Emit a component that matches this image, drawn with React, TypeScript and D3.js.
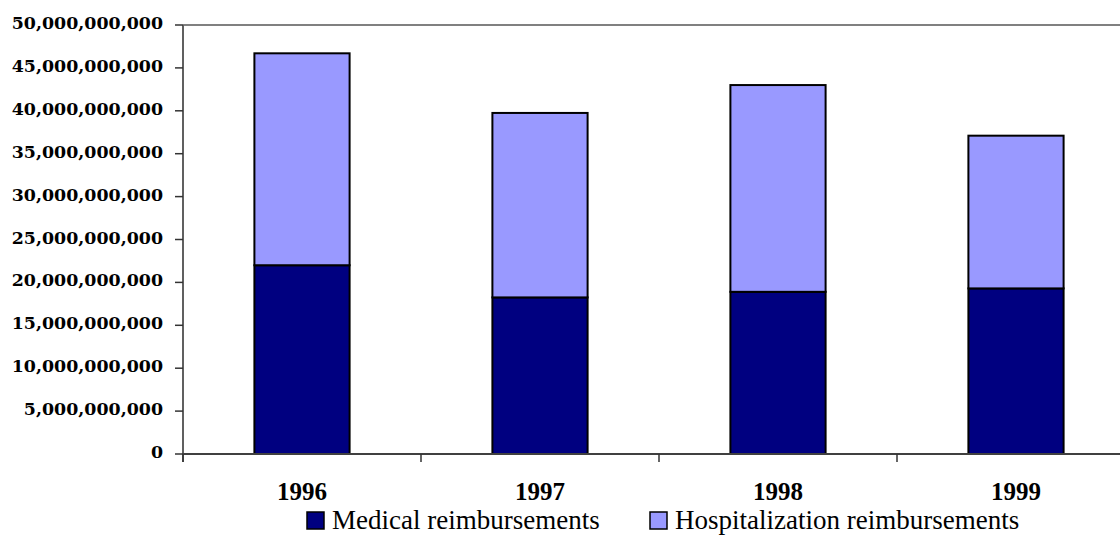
import React from "react";
import * as d3 from "d3";

const years = ["1996", "1997", "1998", "1999"];
const medical = [22.0e9, 18.25e9, 18.9e9, 19.3e9];
const hospitalization = [24.7e9, 21.5e9, 24.1e9, 17.8e9];
const seriesNames = ["Medical reimbursements", "Hospitalization reimbursements"];
const seriesColors = ["#000080", "#9999FF"];
const yTicks = d3.range(0, 50e9 + 1, 5e9);

const W = 1120;
const H = 535;
const left = 183;
const top = 25;
const bottom = 454;
const right = 1135;

export default function App() {
  const x = d3.scaleBand<string>().domain(years).range([left, right]).paddingInner(0.6).paddingOuter(0.3);
  const y = d3.scaleLinear().domain([0, 50e9]).range([bottom, top]);
  const rows = years.map((yr, i) => ({ year: yr, medical: medical[i], hospitalization: hospitalization[i] }));
  const stacked = d3.stack<any>().keys(["medical", "hospitalization"])(rows);
  const fmt = d3.format(",");
  const step = x.step();
  const boundaries = d3.range(0, years.length + 1).map((i) => left + i * step);

  return (
    <svg width={W} height={H} style={{ position: "absolute", left: 0, top: 0, background: "#fff" }}>
      {/* plot border top */}
      <line x1={left} x2={W} y1={top} y2={top} stroke="#808080" strokeWidth={2} />
      {/* bars */}
      {stacked.map((s, si) => (
        <g key={si}>
          {s.map((d, i) => (
            <rect
              key={i}
              x={x(years[i])!}
              width={x.bandwidth()}
              y={y(d[1])}
              height={y(d[0]) - y(d[1])}
              fill={seriesColors[si]}
              stroke="#000"
              strokeWidth={2}
            />
          ))}
        </g>
      ))}
      {/* y axis */}
      <line x1={left} x2={left} y1={top} y2={bottom + 8} stroke="#606060" strokeWidth={2} />
      {yTicks.map((t, i) => (
        <g key={i}>
          <line x1={left - 8} x2={left} y1={y(t)} y2={y(t)} stroke="#333" strokeWidth={1.5} />
          <text
            x={163}
            y={y(t) + 4}
            textAnchor="end"
            fontFamily="DejaVu Serif"
            fontWeight="bold"
            fontSize={17.4}
            fill="#000"
          >
            {fmt(t)}
          </text>
        </g>
      ))}
      {/* x axis */}
      <line x1={left} x2={W} y1={bottom} y2={bottom} stroke="#404040" strokeWidth={2} />
      {boundaries.map((b, i) => (
        <line key={i} x1={b} x2={b} y1={bottom} y2={bottom + 8} stroke="#333" strokeWidth={1.5} />
      ))}
      {years.map((yr) => (
        <text
          key={yr}
          x={x(yr)! + x.bandwidth() / 2}
          y={500}
          textAnchor="middle"
          fontFamily="Liberation Serif"
          fontWeight="bold"
          fontSize={25}
          fill="#000"
        >
          {yr}
        </text>
      ))}
      {/* legend */}
      {seriesNames.map((n, i) => {
        const sx = i === 0 ? 307 : 650;
        return (
          <g key={n}>
            <rect x={sx} y={512} width={17} height={17} fill={seriesColors[i]} stroke="#000" strokeWidth={1.5} />
            <text x={sx + 25} y={528.5} fontFamily="Liberation Serif" fontSize={27} fill="#000">
              {n}
            </text>
          </g>
        );
      })}
    </svg>
  );
}
